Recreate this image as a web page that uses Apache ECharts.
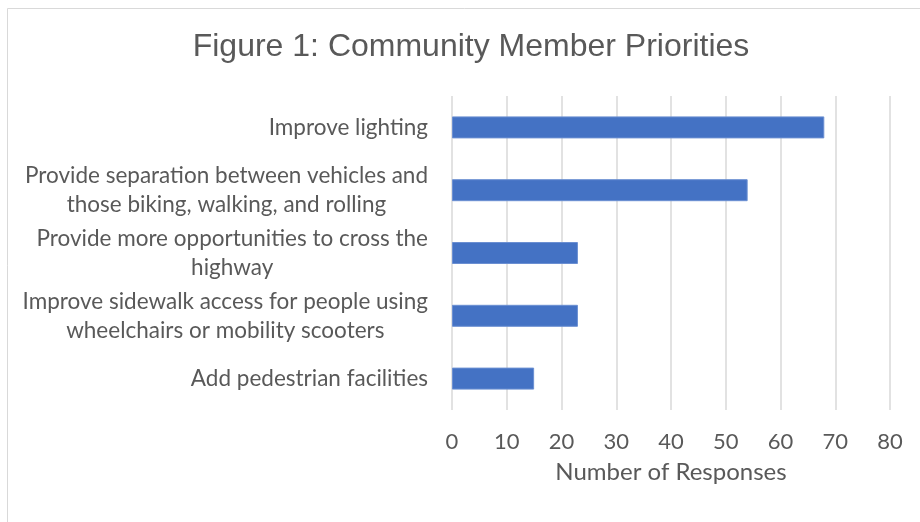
<!DOCTYPE html>
<html>
<head>
<meta charset="utf-8">
<script src="https://cdn.jsdelivr.net/npm/echarts@6/dist/echarts.min.js"></script>
<style>html,body{margin:0;padding:0;background:#fff;}#c{width:920px;height:522px;}</style>
</head>
<body>
<div id="c"></div>
<script>
const titleText = 'Figure 1: Community Member Priorities';
const categories = [
  'Improve lighting',
  'Provide separation between vehicles and\nthose biking, walking, and rolling',
  'Provide more opportunities to cross the\nhighway',
  'Improve sidewalk access for people using\nwheelchairs or mobility scooters',
  'Add pedestrian facilities'
];
const responses = [68, 54, 23, 23, 15];
const xAxisName = 'Number of Responses';

const chart = echarts.init(document.getElementById('c'));
chart.setOption({
  animation: false,
  backgroundColor: '#fff',
  title: {
    text: titleText,
    left: 466, top: 26, textAlign: 'center',
    textStyle: { fontFamily: 'Liberation Sans', fontSize: 32, fontWeight: 'normal', color: '#595959' }
  },
  graphic: [{
    type: 'rect', left: 5, top: 6, shape: { width: 1000, height: 1000 },
    style: { fill: 'none', stroke: '#d9d9d9', lineWidth: 1 }, z: -1
  }],
  grid: { left: 452, right: 30, top: 96, bottom: 112, containLabel: false },
  xAxis: {
    type: 'value', min: 0, max: 80, interval: 10,
    name: xAxisName, nameLocation: 'middle', nameGap: 50,
    nameTextStyle: { fontFamily: 'Lato', fontSize: 24, color: '#595959' },
    axisLine: { show: false }, axisTick: { show: false },
    axisLabel: { fontFamily: 'Lato', fontSize: 22, color: '#595959', margin: 21 },
    splitLine: { lineStyle: { color: '#d9d9d9', width: 1.5 } }
  },
  yAxis: {
    type: 'category', data: categories, inverse: true,
    axisLine: { show: false }, axisTick: { show: false },
    axisLabel: {
      fontFamily: 'Lato', fontSize: 22.5, color: '#595959', margin: 24, lineHeight: 29, align: 'right',
      formatter: function (v) { return v.split('\n').map(function (s) { return '{c|' + s + '}'; }).join('\n'); },
      rich: { c: { fontFamily: 'Lato', fontSize: 22.5, color: '#595959', lineHeight: 29, align: 'center' } }
    }
  },
  series: [{
    type: 'bar', data: responses, barWidth: 22,
    itemStyle: { color: '#4472c4', borderColor: '#6b8fd2', borderWidth: 1 }
  }]
});
</script>
</body>
</html>
